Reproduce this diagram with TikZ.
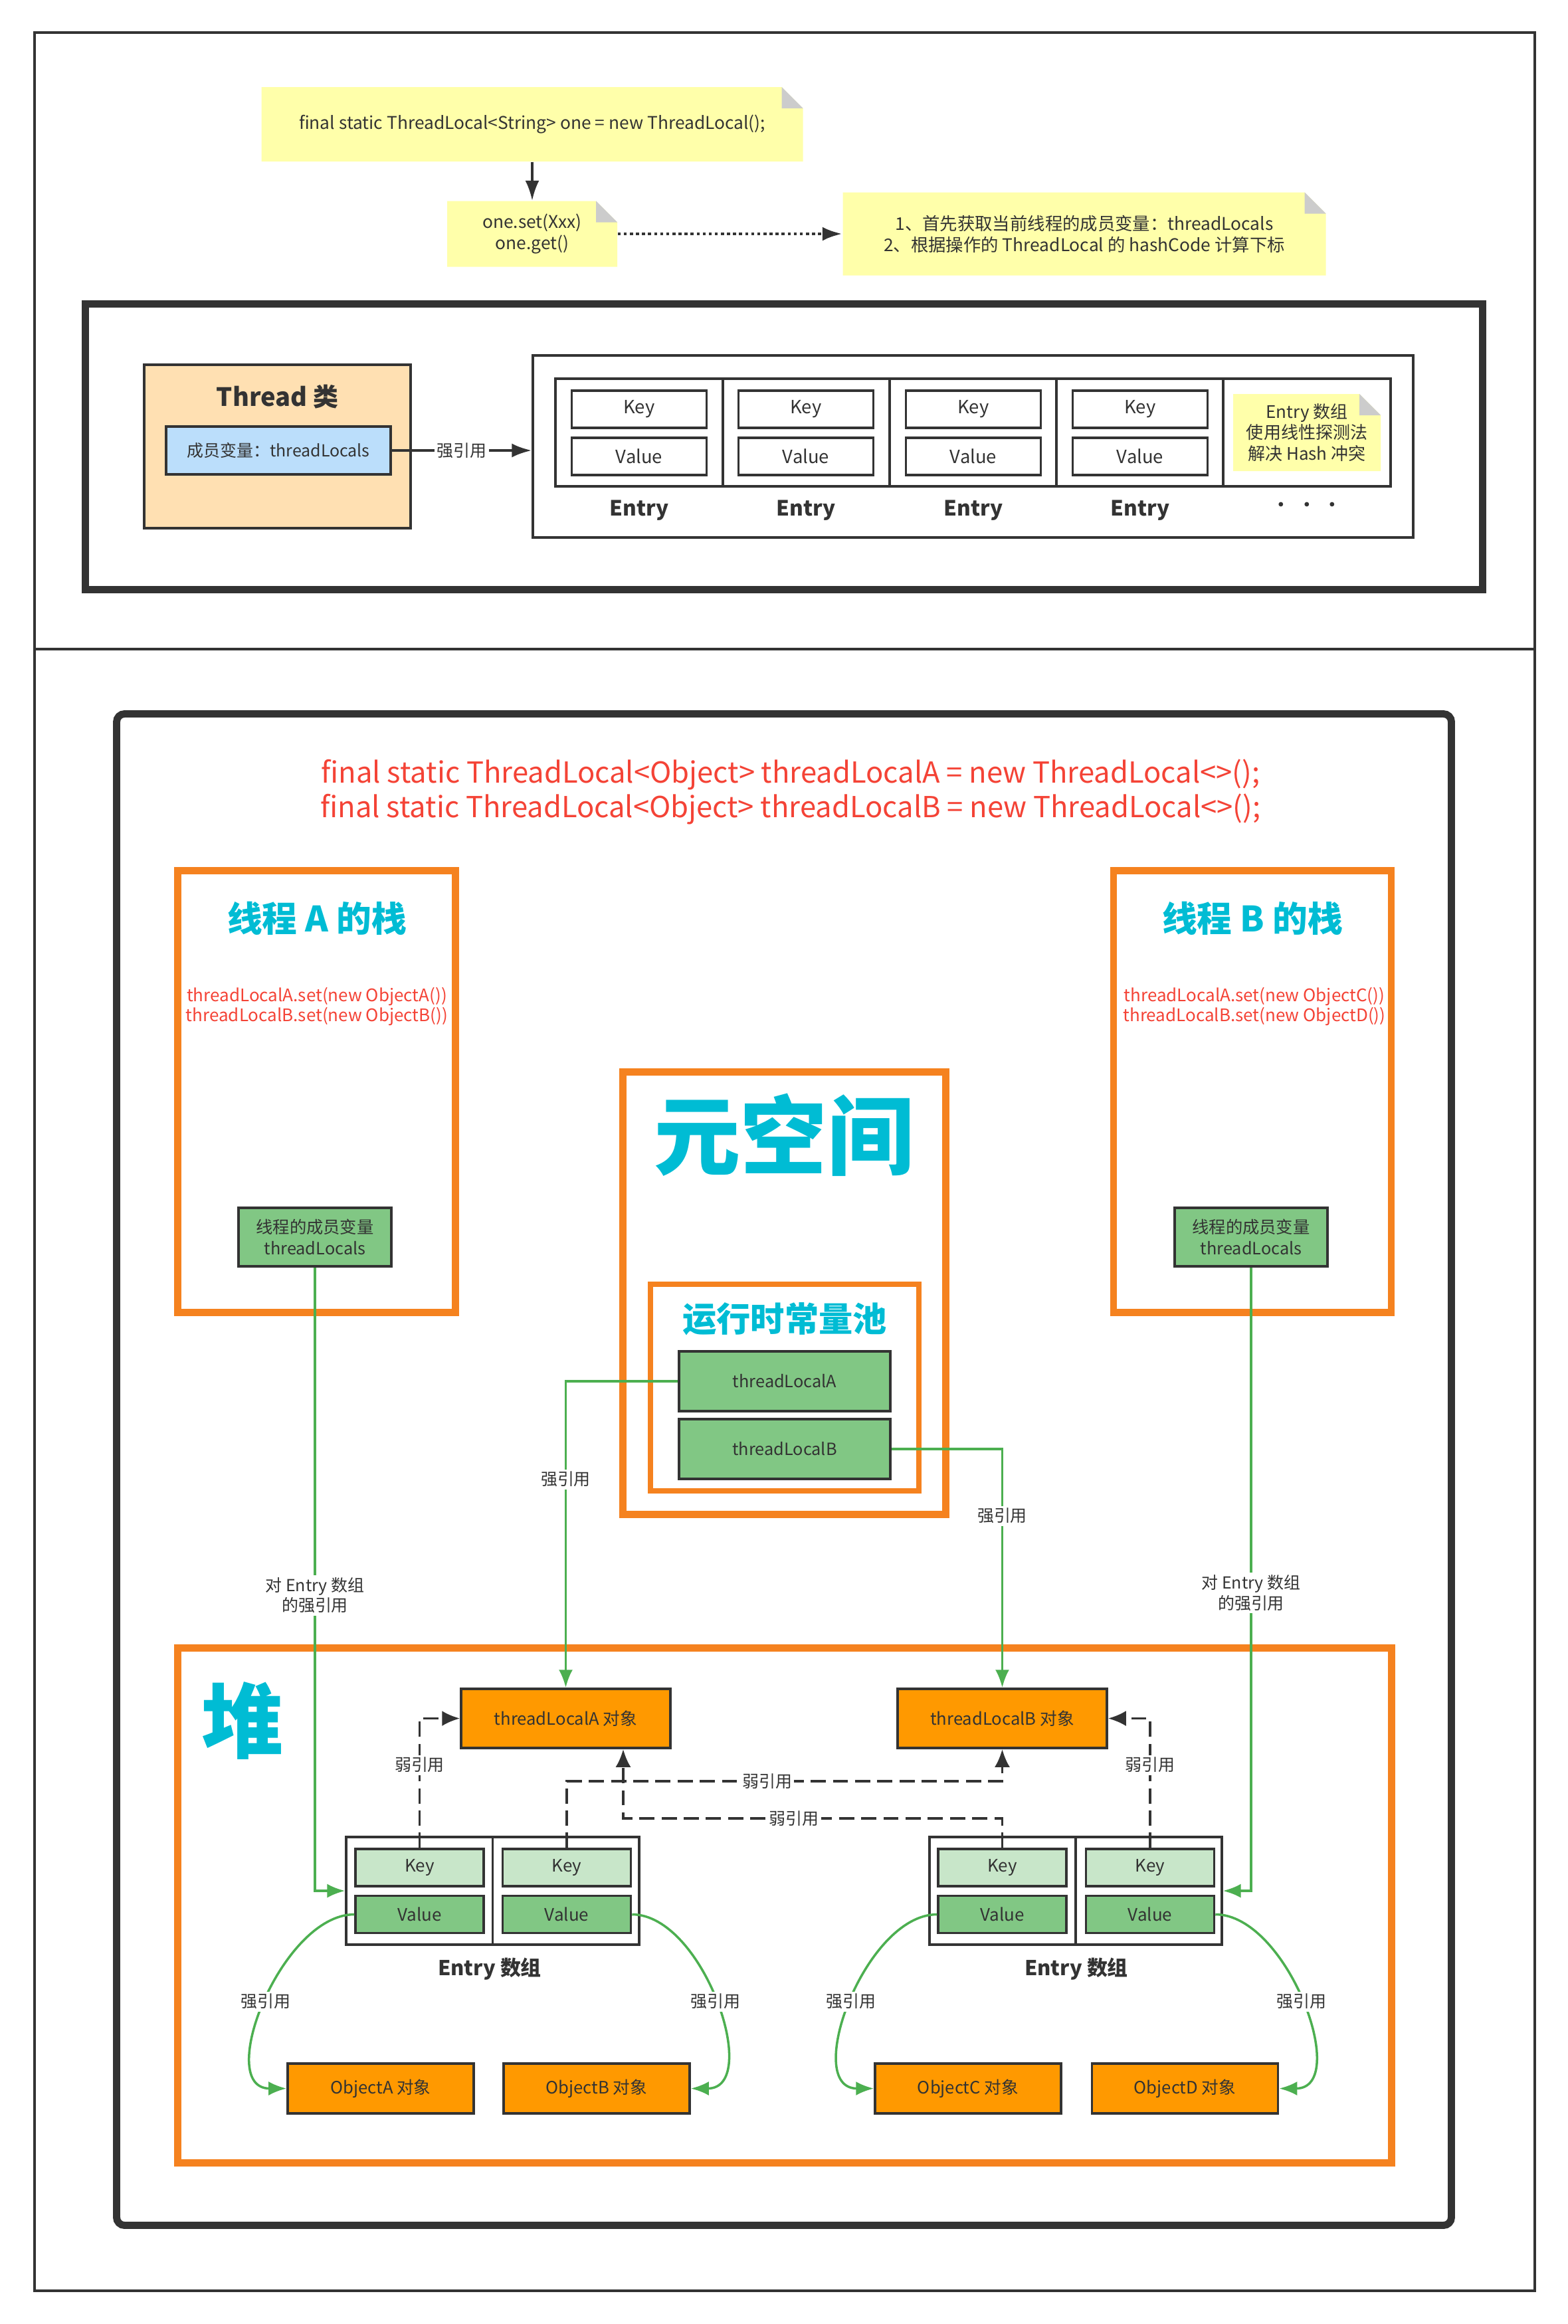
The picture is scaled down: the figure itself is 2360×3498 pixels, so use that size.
\documentclass[tikz,border=0pt]{standalone}
\usepackage{fontspec}
\setmainfont{Noto Sans CJK SC}
\usepackage{tikz}
\usetikzlibrary{arrows.meta,calc,positioning}
\definecolor{darkline}{HTML}{333333}
\definecolor{orangeL}{HTML}{F5821F}
\definecolor{orangeF}{HTML}{FF9900}
\definecolor{cyanT}{HTML}{00BCD4}
\definecolor{redT}{HTML}{F44336}
\definecolor{greenL}{HTML}{4CAF50}
\definecolor{greenF}{HTML}{81C784}
\definecolor{greenK}{HTML}{C8E6C9}
\definecolor{peach}{HTML}{FFE0B2}
\definecolor{blueF}{HTML}{BBDEFB}
\definecolor{noteY}{HTML}{FFFFAA}
\definecolor{noteG}{HTML}{CCCCCC}
\tikzset{
        note/.style = {inner sep=0, align=center, text=darkline,
            font=\fontsize{7.5}{9.1}\selectfont,
            path picture={
              \fill[noteY] (path picture bounding box.south west) -- (path picture bounding box.north west)
                -- ([xshift=-3.2mm]path picture bounding box.north east)
                -- ([yshift=-3.2mm]path picture bounding box.north east)
                -- (path picture bounding box.south east) -- cycle;
              \fill[noteG] ([xshift=-3.2mm]path picture bounding box.north east)
                -- ([xshift=-3.2mm,yshift=-3.2mm]path picture bounding box.north east)
                -- ([yshift=-3.2mm]path picture bounding box.north east) -- cycle;}},
        frame/.style = {draw=darkline, line width=3.1pt},
        block/.style = {draw=darkline, rectangle, line width=1pt, inner sep=0,
            align=center, text=darkline},
        cellbox/.style = {block, line width=1.1pt, minimum width=20.3mm, minimum height=5.6mm,
            font=\fontsize{7.8}{8}\selectfont},
        keybox/.style = {block, fill=greenK, minimum width=19.3mm, minimum height=5.6mm,
            font=\fontsize{7.4}{8}\selectfont},
        valbox/.style = {keybox, fill=greenF},
        rowbox/.style = {block, fill=white, line width=0.9pt},
        greenbox/.style = {block, fill=greenF, font=\fontsize{7.2}{9}\selectfont},
        objbox/.style = {block, fill=orangeF, font=\fontsize{7.3}{8}\selectfont},
        stack/.style = {draw=orangeL, line width=3.1pt, rectangle, inner sep=0},
        bigtitle/.style = {text=cyanT, font=\bfseries\fontsize{15}{16}\selectfont},
        code/.style = {text=redT, align=center, font=\fontsize{7.4}{8.8}\selectfont},
        lab/.style = {fill=white, inner sep=1pt, text=darkline, align=center,
            font=\fontsize{7.1}{8.7}\selectfont},
        arrlabel/.style = {text=darkline, font=\bfseries\fontsize{8.8}{10}\selectfont},
        arrow/.style = {draw=darkline, line width=1pt, -{Latex[length=3mm,width=2.1mm]}},
        strong/.style = {draw=greenL, line width=1pt, -{Latex[length=2.7mm,width=2.1mm]}},
        weak/.style = {draw=darkline, line width=1pt, dash pattern=on 6.5pt off 3pt,
            -{Latex[length=2.7mm,width=2.3mm]}},
    }

\begin{document}
\begin{tikzpicture}[x=0.1mm,y=-0.1mm]
\useasboundingbox (0,0) rectangle (2360,3498);
\draw[darkline, line width=1.1pt] (52,49) rectangle (2310,3448);
\draw[darkline, line width=1.1pt] (52,977) -- (2310,977);

% set / get
\node[note, minimum width=81.5mm, minimum height=11.2mm] (noteOne) at (801,187)
    {final static ThreadLocal<String> one = new ThreadLocal();};
\node[note, minimum width=25.6mm, minimum height=9.9mm] (noteSet) at (801,352)
    {one.set(Xxx)\\one.get()};
\node[note, minimum width=72.7mm, minimum height=12.5mm] (noteStep) at (1632,352)
    {1、首先获取当前线程的成员变量：threadLocals\\2、根据操作的 ThreadLocal 的 hashCode 计算下标};
\draw[arrow] (noteOne) -- (noteSet);
\draw[arrow, line width=1.4pt, dash pattern=on 1.3pt off 1.3pt] (noteSet) -- (noteStep);

% Thread class
\draw[frame] (128.5,457.5) rectangle (2231.5,887.5);
\node[block, fill=peach, minimum width=40.1mm, minimum height=24.6mm] (threadCls) at (417.5,672) {};
\node[text=darkline, font=\bfseries\fontsize{10.8}{12}\selectfont] (threadTitle) at (417.5,597) {Thread 类};
\node[block, fill=blueF, line width=1.2pt, minimum width=33.8mm, minimum height=7.2mm,
      font=\fontsize{7.1}{8}\selectfont] (tlField) at (419,678) {成员变量：threadLocals};
\node[rowbox, minimum width=132.5mm, minimum height=27.4mm] (entryArr) at (1464.5,672) {};
\node[rowbox, line width=1.2pt, minimum width=125.7mm, minimum height=16.2mm] (entryRow) at (1464.5,651) {};
\draw[darkline, line width=0.9pt] (1088,570) -- (1088,732);
\draw[darkline, line width=0.9pt] (1339,570) -- (1339,732);
\draw[darkline, line width=0.9pt] (1590,570) -- (1590,732);
\draw[darkline, line width=0.9pt] (1841,570) -- (1841,732);
\node[cellbox] (key1) at (962,616) {Key};
\node[cellbox] (val1) at (962,687) {Value};
\node[cellbox] (key2) at (1213,616) {Key};
\node[cellbox] (val2) at (1213,687) {Value};
\node[cellbox] (key3) at (1465,616) {Key};
\node[cellbox] (val3) at (1465,687) {Value};
\node[cellbox] (key4) at (1716,616) {Key};
\node[cellbox] (val4) at (1716,687) {Value};
\node[arrlabel, font=\bfseries\fontsize{9}{10}\selectfont] (entry1) at (962,768) {Entry};
\node[arrlabel, font=\bfseries\fontsize{9}{10}\selectfont] (entry2) at (1213,768) {Entry};
\node[arrlabel, font=\bfseries\fontsize{9}{10}\selectfont] (entry3) at (1465,768) {Entry};
\node[arrlabel, font=\bfseries\fontsize{9}{10}\selectfont] (entry4) at (1716,768) {Entry};
\node[note, font=\fontsize{7.4}{9}\selectfont, minimum width=22.2mm, minimum height=11.6mm]
    (noteHash) at (1967,651) {Entry 数组\\使用线性探测法\\解决 Hash 冲突};
\node[text=darkline, font=\fontsize{9}{10}\selectfont] (dots) at (1967,764) {· · ·};
\draw[arrow, line width=1.2pt] (tlField.east) -- node[lab]{强引用} (tlField.east -| entryArr.west);

% stacks, metaspace, heap
\draw[frame, rounded corners=1.2mm] (175.5,1074.5) rectangle (2184.5,3349.5);
\node[code, font=\fontsize{12.4}{14.8}\selectfont] (codeHead) at (1190,1192)
    {final static ThreadLocal<Object> threadLocalA = new ThreadLocal<>();\\
     final static ThreadLocal<Object> threadLocalB = new ThreadLocal<>();};

\node[stack, minimum width=41.8mm, minimum height=66.5mm] (stackA) at (476.5,1643) {};
\node[bigtitle] (stackAtitle) at (477,1382) {线程 A 的栈};
\node[code] (codeA) at (477,1515) {threadLocalA.set(new ObjectA())\\threadLocalB.set(new ObjectB())};
\node[greenbox, minimum width=23mm, minimum height=8.8mm] (tlsA) at (474,1862) {线程的成员变量\\threadLocals};

\node[stack, minimum width=41.8mm, minimum height=66.5mm] (stackB) at (1885,1643) {};
\node[bigtitle] (stackBtitle) at (1885,1382) {线程 B 的栈};
\node[code] (codeB) at (1888,1515) {threadLocalA.set(new ObjectC())\\threadLocalB.set(new ObjectD())};
\node[greenbox, minimum width=23mm, minimum height=8.8mm] (tlsB) at (1883,1862) {线程的成员变量\\threadLocals};

\node[stack, minimum width=48.6mm, minimum height=66.6mm] (meta) at (1180.5,1946.5) {};
\node[bigtitle, font=\bfseries\fontsize{37}{39}\selectfont] (metaTitle) at (1180,1708) {元空间};
\node[stack, line width=2.3pt, minimum width=40.4mm, minimum height=31.1mm] (pool) at (1181,2088.5) {};
\node[bigtitle, font=\bfseries\fontsize{14.6}{16}\selectfont] (poolTitle) at (1181,1985) {运行时常量池};
\node[greenbox, minimum width=31.8mm, minimum height=9mm] (tlA) at (1181,2079) {threadLocalA};
\node[greenbox, minimum width=31.8mm, minimum height=9mm] (tlB) at (1181,2181) {threadLocalB};

\node[stack, minimum width=182.7mm, minimum height=77.5mm] (heap) at (1181,2868) {};
\node[bigtitle, font=\bfseries\fontsize{35}{37}\selectfont] (heapTitle) at (365,2590) {堆};
\node[objbox, minimum width=31.5mm, minimum height=8.9mm] (tlAobj) at (851.5,2586.5) {threadLocalA 对象};
\node[objbox, minimum width=31.5mm, minimum height=8.9mm] (tlBobj) at (1508.5,2586.5) {threadLocalB 对象};

\node[rowbox, minimum width=44.1mm, minimum height=16.2mm] (arrL) at (741.5,2846) {};
\node[rowbox, minimum width=44mm, minimum height=16.2mm] (arrR) at (1619,2846) {};
\draw[darkline, line width=0.9pt] (arrL.north) -- (arrL.south);
\draw[darkline, line width=0.9pt] (arrR.north) -- (arrR.south);
\node[keybox] (keyL1) at (631.5,2811) {Key};
\node[valbox] (valL1) at (631.5,2881.5) {Value};
\node[keybox] (keyL2) at (853,2811) {Key};
\node[valbox] (valL2) at (853,2881.5) {Value};
\node[keybox] (keyR1) at (1508.5,2811) {Key};
\node[valbox] (valR1) at (1508.5,2881.5) {Value};
\node[keybox] (keyR2) at (1731,2811) {Key};
\node[valbox] (valR2) at (1731,2881.5) {Value};
\node[arrlabel] (arrLlabel) at (737,2964) {Entry 数组};
\node[arrlabel] (arrRlabel) at (1620,2964) {Entry 数组};

\node[objbox, minimum width=28mm, minimum height=7.5mm] (objA) at (573,3143.5) {ObjectA 对象};
\node[objbox, minimum width=28mm, minimum height=7.5mm] (objB) at (898,3143.5) {ObjectB 对象};
\node[objbox, minimum width=28mm, minimum height=7.5mm] (objC) at (1457,3143.5) {ObjectC 对象};
\node[objbox, minimum width=28mm, minimum height=7.5mm] (objD) at (1783.5,3143.5) {ObjectD 对象};

% strong references
\draw[strong] (tlsA.south) |- node[lab, pos=0.263]{对 Entry 数组\\的强引用} (arrL.west);
\draw[strong] (tlsB.south) |- node[lab, pos=0.261]{对 Entry 数组\\的强引用} (arrR.east);
\draw[strong] (tlA.west) -| node[lab, pos=0.66]{强引用} (tlAobj.north);
\draw[strong] (tlB.east) -| node[lab, pos=0.64]{强引用} (tlBobj.north);
\draw[strong] (valL1.west) to[out=180,in=180] node[lab]{强引用} (objA.west);
\draw[strong] (valL2.east) to[out=0,in=0] node[lab]{强引用} (objB.east);
\draw[strong] (valR1.west) to[out=180,in=180] node[lab]{强引用} (objC.west);
\draw[strong] (valR2.east) to[out=0,in=0] node[lab]{强引用} (objD.east);

% weak references
\coordinate (levHi) at (0,2681);
\coordinate (levLo) at (0,2737);
\coordinate (tlAfoot) at ([xshift=8.65mm]tlAobj.south);
\draw[weak] (keyL1.north) |- node[lab, pos=0.32]{弱引用} (tlAobj.west);
\draw[weak] (keyR2.north) |- node[lab, pos=0.32]{弱引用} (tlBobj.east);
\draw[weak] (keyL2.north) -- (keyL2.north |- levHi) -- node[lab, pos=0.46]{弱引用} (tlBobj.south |- levHi) -- (tlBobj.south);
\draw[weak] (keyR1.north) -- (keyR1.north |- levLo) -- node[lab, pos=0.55]{弱引用} (tlAfoot |- levLo) -- (tlAfoot);
\end{tikzpicture}
\end{document}
